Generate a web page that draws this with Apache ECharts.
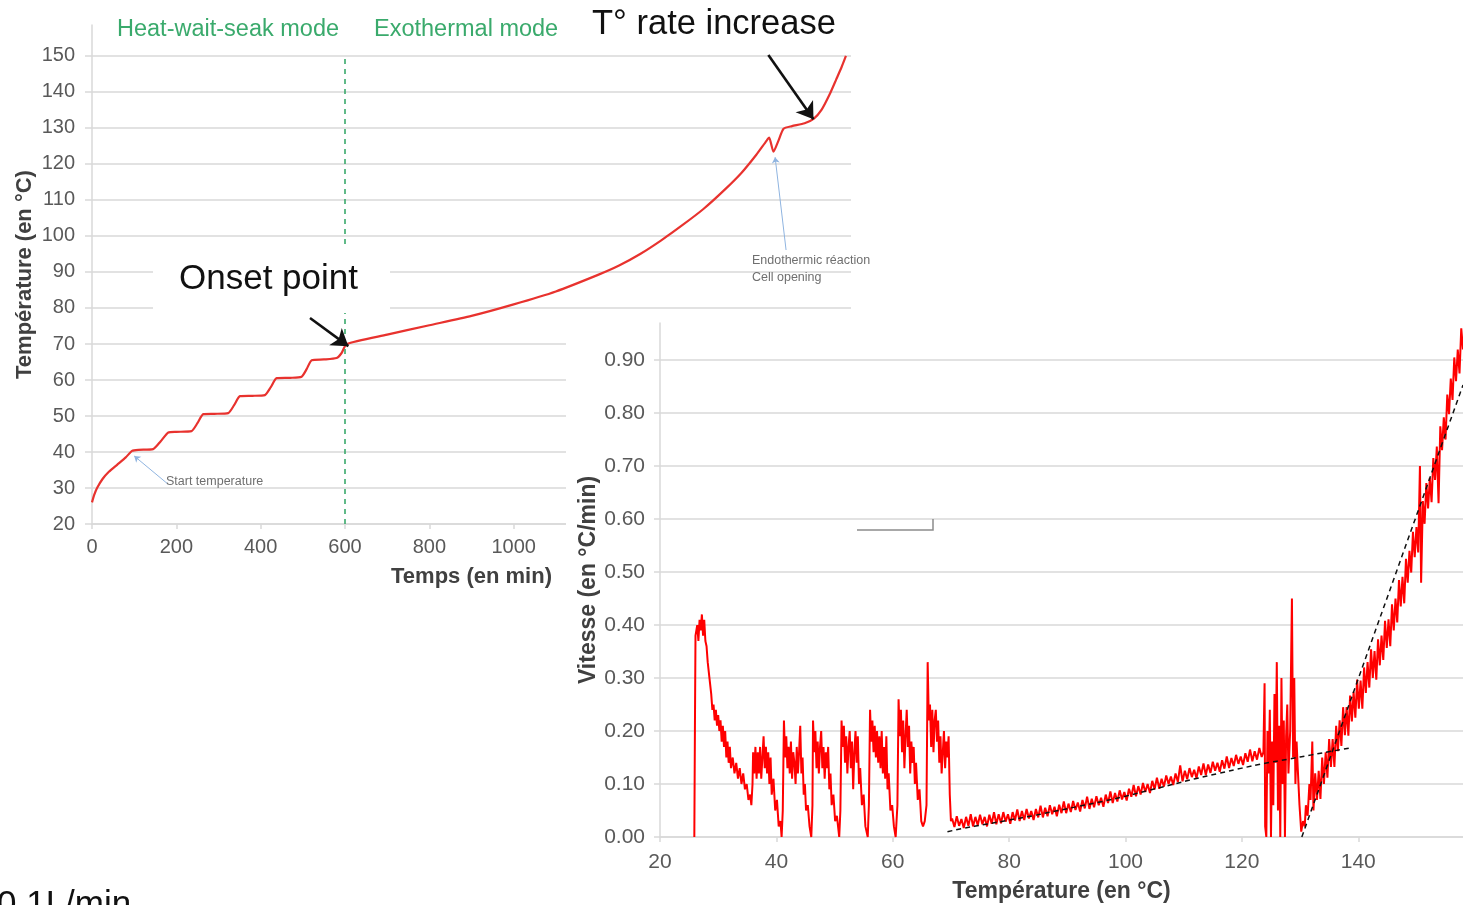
<!DOCTYPE html>
<html>
<head>
<meta charset="utf-8">
<title>Température et vitesse d'échauffement</title>
<script src="https://cdn.jsdelivr.net/npm/echarts@6/dist/echarts.min.js"></script>
<style>
  html, body { margin: 0; padding: 0; width: 1463px; height: 905px; overflow: hidden; background: #fff; }
  #temp { position: absolute; left: 0; top: 0; width: 1463px; height: 905px; }
  #rate { position: absolute; left: 566px; top: 316px; width: 897px; height: 589px; background: #fff; }
</style>
</head>
<body>
<div id="temp"></div>
<div id="rate"></div>
<script>
// ---------- Température vs temps (heat-wait-seek puis mode exothermique) ----------
const timeMin = [0, 5, 12, 25, 40, 60, 80, 95, 110, 145, 163, 181, 200, 236, 250, 264, 290, 323, 337, 351,
  380, 410, 424, 438, 470, 497, 509, 521, 550, 580, 592, 604, 700, 800, 900, 1000, 1100, 1200, 1250, 1300,
  1350, 1400, 1450, 1500, 1540, 1575, 1600, 1606, 1616, 1628, 1640, 1660, 1690, 1712, 1730, 1750, 1765, 1778, 1788];
const tempC = [26, 28, 30, 32.5, 34.5, 36.5, 38.5, 40.3, 40.6, 40.8, 43, 45.4, 45.6, 45.8, 48, 50.5, 50.6, 50.8, 53, 55.5,
  55.6, 55.8, 58, 60.5, 60.6, 60.9, 63, 65.5, 65.7, 66.1, 67.5, 70, 72.6, 75.2, 77.8, 81, 84.6, 89.2, 91.8, 95,
  98.8, 103, 107.5, 112.8, 117.5, 122.5, 126.5, 127.3, 123.4, 126.5, 129.8, 130.5, 131.3, 132.6, 135, 139.5, 143.5, 147, 150];

const timeTicks = [0, 200, 400, 600, 800, 1000, 1200, 1400, 1600, 1800];
const tempTicks = [20, 30, 40, 50, 60, 70, 80, 90, 100, 110, 120, 130, 140, 150];

// annotations, in (min, °C)
const phaseLimit = [[600, 20], [600, 150]];
const onsetArrow = [[517, 77.2], [608, 69.4]];
const rateArrow = [[1604, 150.3], [1711, 132.4]];
const startLeader = [[180, 31.1], [100, 38.9]];
const endoLeader = [[1646, 96.1], [1620, 121.9]];

// ---------- Vitesse d'échauffement vs température ----------
const rateWarmup = [[25.9,0],[26.0,0.2],[26.1,0.38],[26.4,0.40],[26.6,0.37],[26.8,0.41],[27.0,0.39],[27.2,0.42],
  [27.4,0.38],[27.6,0.41],[27.8,0.37],[28.0,0.36],[28.2,0.33],[28.5,0.30],[28.8,0.27],[29.0,0.24],[29.2,0.25],
  [29.4,0.22],[29.6,0.24],[29.8,0.21],[30.0,0.23],[30.2,0.20],[30.4,0.22],[30.6,0.18],[30.8,0.21],[31.0,0.17],
  [31.2,0.20],[31.4,0.15],[31.6,0.18],[31.8,0.14],[32.0,0.17],[32.2,0.13],[32.5,0.15],[32.8,0.12],[33.1,0.14],
  [33.4,0.11],[33.7,0.13],[34.0,0.10],[34.3,0.12],[34.6,0.09],[34.9,0.10],[35.2,0.07],[35.5,0.08],[35.7,0.06],
  [35.9,0.10],[36.0,0.16],[36.2,0.12],[36.4,0.17],[36.6,0.11],[36.8,0.16],[37.0,0.12],[37.2,0.17],[37.4,0.11],
  [37.6,0.15],[37.8,0.19],[38.0,0.13],[38.2,0.17],[38.4,0.12],[38.6,0.16],[38.8,0.10],[39.0,0.15],[39.2,0.08],
  [39.5,0.11],[39.8,0.05],[40.1,0.07],[40.4,0.02],[40.7,0.03],[40.9,0.0]];

const rateSteps = [[41.1,0.05],[41.3,0.22],[41.5,0.15],[41.7,0.19],[41.9,0.13],[42.1,0.17],[42.3,0.12],[42.5,0.18],
  [42.7,0.11],[42.9,0.16],[43.1,0.14],[43.3,0.10],[43.5,0.17],[43.7,0.12],[43.9,0.16],[44.1,0.21],[44.3,0.12],
  [44.5,0.15],[44.7,0.08],[44.9,0.10],[45.1,0.05],[45.4,0.06],[45.7,0.02],[46.0,0.0],
  [46.2,0.06],[46.3,0.22],[46.5,0.16],[46.7,0.20],[46.9,0.13],[47.1,0.18],[47.3,0.12],[47.5,0.17],[47.7,0.20],
  [47.9,0.13],[48.1,0.17],[48.3,0.11],[48.5,0.16],[48.7,0.13],[48.9,0.17],[49.1,0.09],[49.3,0.12],[49.5,0.06],
  [49.8,0.08],[50.1,0.03],[50.4,0.04],[50.8,0.0],
  [51.0,0.05],[51.2,0.22],[51.4,0.17],[51.6,0.21],[51.8,0.14],[52.0,0.19],[52.2,0.12],[52.4,0.17],[52.6,0.20],
  [52.8,0.13],[53.0,0.18],[53.2,0.09],[53.4,0.16],[53.6,0.20],[53.8,0.14],[54.0,0.19],[54.2,0.10],[54.4,0.13],
  [54.7,0.06],[55.0,0.08],[55.3,0.02],[55.7,0.0],
  [55.9,0.06],[56.1,0.24],[56.3,0.18],[56.5,0.22],[56.7,0.16],[56.9,0.21],[57.1,0.15],[57.3,0.20],[57.5,0.14],
  [57.7,0.19],[57.9,0.13],[58.1,0.20],[58.3,0.12],[58.5,0.17],[58.7,0.11],[58.9,0.19],[59.1,0.09],[59.3,0.12],
  [59.6,0.05],[59.9,0.06],[60.2,0.02],[60.5,0.0],
  [60.8,0.06],[61.0,0.26],[61.2,0.19],[61.4,0.24],[61.6,0.16],[61.8,0.22],[62.0,0.13],[62.2,0.19],[62.4,0.24],
  [62.6,0.17],[62.8,0.21],[63.0,0.12],[63.2,0.18],[63.4,0.14],[63.6,0.17],[63.8,0.10],[64.0,0.14],[64.3,0.07],
  [64.6,0.09],[64.9,0.03],[65.2,0.02],[65.5,0.03],
  [65.8,0.06],[66.0,0.33],[66.2,0.22],[66.4,0.25],[66.6,0.17],[66.8,0.24],[67.0,0.16],[67.2,0.22],[67.4,0.24],
  [67.6,0.18],[67.8,0.22],[68.0,0.14],[68.2,0.19],[68.4,0.12],[68.6,0.16],[68.8,0.20],[69.0,0.13],[69.2,0.18],
  [69.4,0.15],[69.6,0.19],[69.8,0.08],[70.0,0.03]];

const rateSlow = [[70.2,0.035],[70.6,0.019],[71.0,0.039],[71.4,0.021],[71.8,0.034],[72.2,0.017],[72.6,0.038],
  [73.0,0.021],[73.4,0.043],[73.8,0.020],[74.2,0.038],[74.6,0.022],[75.0,0.042],[75.4,0.024],[75.8,0.038],
  [76.2,0.020],[76.6,0.042],[77.0,0.025],[77.4,0.047],[77.8,0.024],[78.2,0.043],[78.6,0.026],[79.0,0.047],
  [79.4,0.029],[79.8,0.043],[80.2,0.025],[80.6,0.047],[81.0,0.031],[81.4,0.052],[81.8,0.030],[82.2,0.049],
  [82.6,0.032],[83.0,0.053],[83.4,0.035],[83.8,0.049],[84.2,0.032],[84.6,0.053],[85.0,0.037],[85.4,0.059],
  [85.8,0.037],[86.2,0.055],[86.6,0.039],[87.0,0.060],[87.4,0.043],[87.8,0.057],[88.2,0.039],[88.6,0.061],
  [89.0,0.045],[89.4,0.067],[89.8,0.045],[90.2,0.063],[90.6,0.047],[91.0,0.068],[91.4,0.051],[91.8,0.065],
  [92.2,0.048],[92.6,0.070],[93.0,0.054],[93.4,0.076],[93.8,0.053],[94.2,0.072],[94.6,0.056],[95.0,0.077],
  [95.4,0.060],[95.8,0.074],[96.2,0.057],[96.6,0.080],[97.0,0.064],[97.4,0.086],[97.8,0.064],[98.2,0.083],
  [98.6,0.067],[99.0,0.088],[99.4,0.071],[99.8,0.085],[100.2,0.069],[100.6,0.091],[101.0,0.076],[101.4,0.098],
  [101.8,0.077],[102.2,0.096],[102.6,0.080],[103.0,0.102],[103.4,0.085],[103.8,0.100],[104.2,0.083],[104.6,0.106],
  [105.0,0.090],[105.4,0.112],[105.8,0.091],[106.2,0.110],[106.6,0.095],[107.0,0.116],[107.4,0.100],[107.8,0.114],
  [108.2,0.098],[108.6,0.120],[109.0,0.104],[109.4,0.135],[109.8,0.105],[110.2,0.125],[110.6,0.109],[111.0,0.130],
  [111.4,0.113],[111.8,0.127],[112.2,0.111],[112.6,0.133],[113.0,0.117],[113.4,0.139],[113.8,0.117],[114.2,0.137],
  [114.6,0.121],[115.0,0.142],[115.4,0.125],[115.8,0.140],[116.2,0.123],[116.6,0.145],[117.0,0.129],[117.4,0.152],
  [117.8,0.130],[118.2,0.149],[118.6,0.134],[119.0,0.155],[119.4,0.138],[119.8,0.152],[120.2,0.136],[120.6,0.158],
  [121.0,0.142],[121.4,0.165],[121.8,0.143],[122.2,0.162],[122.6,0.146],[123.0,0.168],[123.4,0.151]];

const rateBurst = [[123.7,0.16],[123.9,0.29],[124.0,0.02],[124.2,0.0],[124.4,0.20],[124.6,0.12],[124.8,0.24],
  [125.0,0.0],[125.2,0.18],[125.4,0.06],[125.6,0.27],[125.8,0.14],[126.0,0.33],[126.2,0.05],[126.4,0.21],
  [126.6,0.0],[126.8,0.30],[127.0,0.10],[127.2,0.22],[127.4,0.0],[127.6,0.19],[127.8,0.25],[128.0,0.12],
  [128.3,0.20],[128.6,0.45],[128.8,0.15],[129.0,0.30],[129.2,0.10],[129.4,0.18],[129.6,0.13],[129.9,0.06],
  [130.2,0.01],[130.5,0.03],[130.8,0.02],[131.0,0.06],[131.3,0.04],[131.6,0.10],[131.8,0.07]];

const rateRunaway = [[132.1,0.18],[132.3,0.05],[132.6,0.12],[132.9,0.07],[133.2,0.125],[133.5,0.072],[133.8,0.15],
  [134.1,0.10],[134.4,0.16],[134.7,0.112],[135.0,0.185],[135.3,0.132],[135.6,0.185],[135.9,0.132],[136.2,0.21],
  [136.5,0.162],[136.8,0.22],[137.1,0.172],[137.4,0.245],[137.7,0.192],[138.0,0.245],[138.3,0.191],[138.6,0.267],
  [138.9,0.218],[139.2,0.274],[139.5,0.225],[139.8,0.297],[140.1,0.242],[140.4,0.295],[140.7,0.242],[141.0,0.32],
  [141.3,0.272],[141.6,0.33],[141.9,0.282],[142.2,0.354],[142.5,0.30],[142.8,0.351],[143.1,0.297],[143.4,0.373],
  [143.7,0.324],[144.0,0.38],[144.3,0.334],[144.6,0.408],[144.9,0.357],[145.2,0.411],[145.5,0.36],[145.8,0.439],
  [146.1,0.39],[146.4,0.45],[146.7,0.405],[147.0,0.485],[147.3,0.435],[147.6,0.491],[147.9,0.441],[148.2,0.525],
  [148.5,0.48],[148.8,0.54],[149.1,0.499],[149.4,0.576],[149.7,0.528],[150.0,0.585],[150.3,0.537],[150.6,0.70],
  [150.8,0.48],[151.1,0.634],[151.4,0.591],[151.7,0.668],[152.0,0.62],[152.3,0.678],[152.6,0.632],[152.9,0.715],
  [153.2,0.674],[153.5,0.737],[153.8,0.63],[154.1,0.775],[154.4,0.73],[154.7,0.792],[155.0,0.75],[155.3,0.835],
  [155.6,0.798],[155.9,0.865],[156.2,0.825],[156.5,0.905],[156.8,0.86],[157.1,0.92],[157.4,0.875],[157.7,0.96],[158.0,0.92]];

// fitted trends
const trendSlow = [[69.4,0.010],[72,0.016],[76,0.024],[80,0.032],[84,0.040],[88,0.049],[92,0.058],[96,0.067],
  [100,0.077],[104,0.088],[108,0.099],[112,0.110],[116,0.120],[120,0.130],[124,0.139],[128,0.147],[132,0.155],
  [136,0.163],[138.6,0.168]];
const trendRunaway = [[130.3,0.0],[158,0.853]];

const rateTicks = [0, 0.1, 0.2, 0.3, 0.4, 0.5, 0.6, 0.7, 0.8, 0.9];
const cellTempTicks = [20, 40, 60, 80, 100, 120, 140];

// ---------- shared styling ----------
const FONT = '"Liberation Sans", Arial, Helvetica, sans-serif';
const GRID = '#d9d9d9';
const LABEL = '#595959';
const TITLE = '#404040';
const GREEN = '#3aaa6c';

function axisTitle(size) {
  return { fontFamily: FONT, fontSize: size, fontWeight: 'bold', color: TITLE };
}
function tickLabel(size, extra) {
  return Object.assign({ fontFamily: FONT, fontSize: size, color: LABEL }, extra || {});
}
function markerSeries(color, width, dash, endSymbol, endSize, lines) {
  return {
    type: 'line', data: [], silent: true, z: 3,
    markLine: {
      silent: true, animation: false,
      symbol: ['none', endSymbol], symbolSize: endSize,
      label: { show: false }, emphasis: { disabled: true },
      lineStyle: { color: color, width: width, type: dash, opacity: 1 },
      itemStyle: { color: color },
      data: lines.map(l => [{ coord: l[0] }, { coord: l[1] }])
    }
  };
}

// ---------- Température (en °C) vs Temps (en min) ----------
const tempChart = echarts.init(document.getElementById('temp'));
tempChart.setOption({
  animation: false,
  grid: { left: 92, right: 612, top: 25, bottom: 381, outerBoundsMode: 'none', containLabel: false },
  xAxis: {
    type: 'value', min: 0, max: 1800, interval: 200,
    name: 'Temps (en min)', nameLocation: 'middle', nameGap: 42, nameTextStyle: axisTitle(22),
    axisLine: { show: true, lineStyle: { color: GRID, width: 1.5 } },
    axisTick: { show: true, length: 5, customValues: timeTicks, lineStyle: { color: GRID, width: 1.5 } },
    axisLabel: tickLabel(20, { margin: 13, customValues: timeTicks, formatter: v => String(v) }),
    splitLine: { show: false }
  },
  yAxis: {
    type: 'value', min: 20, max: 158.6, interval: 10,
    name: 'Température (en °C)', nameLocation: 'middle', nameGap: 56, nameMoveOverlap: false,
    nameTextStyle: axisTitle(22),
    axisLine: { show: true, lineStyle: { color: GRID, width: 1.5 } },
    axisTick: { show: true, length: 7, customValues: tempTicks, lineStyle: { color: GRID, width: 1.5 } },
    axisLabel: tickLabel(20, { margin: 17, customValues: tempTicks, formatter: v => String(v) }),
    splitLine: { show: true, lineStyle: { color: GRID, width: 1.5 } }
  },
  series: [
    {
      type: 'line', name: 'Température', showSymbol: false, z: 2, smooth: 0.2,
      lineStyle: { color: '#e8322e', width: 2.2 },
      data: timeMin.map((t, i) => [t, tempC[i]])
    },
    markerSeries(GREEN, 1.6, [5, 5], 'none', 0, [phaseLimit]),
    markerSeries('#111111', 2.6, 'solid', 'arrow', 16, [onsetArrow, rateArrow]),
    markerSeries('#8fb4e0', 1, 'solid', 'arrow', 6, [startLeader, endoLeader])
  ],
  graphic: [
    { type: 'text', z: 100, x: 117, y: 30,
      style: { text: 'Heat-wait-seak mode', fontFamily: FONT, fontSize: 23.5, fill: GREEN, verticalAlign: 'middle' } },
    { type: 'text', z: 100, x: 374, y: 30,
      style: { text: 'Exothermal mode', fontFamily: FONT, fontSize: 23.5, fill: GREEN, verticalAlign: 'middle' } },
    { type: 'text', z: 100, x: 592, y: 24,
      style: { text: 'T° rate increase', fontFamily: FONT, fontSize: 34.5, fill: '#111', verticalAlign: 'middle' } },
    { type: 'rect', z: 99, shape: { x: 153, y: 244, width: 237, height: 69 }, style: { fill: '#fff' } },
    { type: 'text', z: 100, x: 179, y: 279,
      style: { text: 'Onset point', fontFamily: FONT, fontSize: 35, fill: '#111', verticalAlign: 'middle' } },
    { type: 'text', z: 100, x: 166, y: 482,
      style: { text: 'Start temperature', fontFamily: FONT, fontSize: 12.5, fill: '#6f6f6f', verticalAlign: 'middle' } },
    { type: 'text', z: 100, x: 752, y: 261,
      style: { text: 'Endothermic réaction', fontFamily: FONT, fontSize: 12.5, fill: '#6f6f6f', verticalAlign: 'middle' } },
    { type: 'text', z: 100, x: 752, y: 278,
      style: { text: 'Cell opening', fontFamily: FONT, fontSize: 12.5, fill: '#6f6f6f', verticalAlign: 'middle' } },
    { type: 'text', z: 100, x: -3, y: 905,
      style: { text: '0.1L/min', fontFamily: FONT, fontSize: 35, fill: '#111', verticalAlign: 'middle' } }
  ]
});

// ---------- Vitesse (en °C/min) vs Température (en °C) ----------
const rateChart = echarts.init(document.getElementById('rate'));
rateChart.setOption({
  animation: false,
  grid: { left: 94, right: 0, top: 7, bottom: 68, outerBoundsMode: 'none', containLabel: false },
  xAxis: {
    type: 'value', min: 20, max: 158, interval: 20,
    name: 'Température (en °C)', nameLocation: 'middle', nameGap: 43, nameTextStyle: axisTitle(23),
    axisLine: { show: true, lineStyle: { color: GRID, width: 1.5 } },
    axisTick: { show: true, length: 5, customValues: cellTempTicks, lineStyle: { color: GRID, width: 1.5 } },
    axisLabel: tickLabel(21, { margin: 15, customValues: cellTempTicks, formatter: v => String(v) }),
    splitLine: { show: false }
  },
  yAxis: {
    type: 'value', min: 0, max: 0.97, interval: 0.1,
    name: 'Vitesse (en °C/min)', nameLocation: 'middle', nameGap: 60, nameMoveOverlap: false,
    nameTextStyle: axisTitle(23),
    axisLine: { show: true, lineStyle: { color: GRID, width: 1.5 } },
    axisTick: { show: true, length: 6, customValues: rateTicks, lineStyle: { color: GRID, width: 1.5 } },
    axisLabel: tickLabel(21, { margin: 15, customValues: rateTicks, formatter: v => v.toFixed(2) }),
    splitLine: { show: true, lineStyle: { color: GRID, width: 1.5 } }
  },
  series: [
    {
      type: 'line', name: 'Vitesse', showSymbol: false, z: 2,
      lineStyle: { color: '#ff0000', width: 2 },
      data: rateWarmup.concat(rateSteps, rateSlow, rateBurst, rateRunaway)
    },
    {
      type: 'line', name: 'Tendance', showSymbol: false, smooth: true, z: 3,
      lineStyle: { color: '#111', width: 1.5, type: [5, 4] },
      data: trendSlow
    },
    {
      type: 'line', name: 'Tendance emballement', showSymbol: false, z: 3,
      lineStyle: { color: '#111', width: 1.5, type: [5, 4] },
      data: trendRunaway
    }
  ],
  graphic: [
    { type: 'polyline', z: 50, shape: { points: [[291, 214], [367, 214], [367, 203]] },
      style: { stroke: '#8c8c8c', lineWidth: 1.5, fill: null } }
  ]
});
</script>
</body>
</html>
